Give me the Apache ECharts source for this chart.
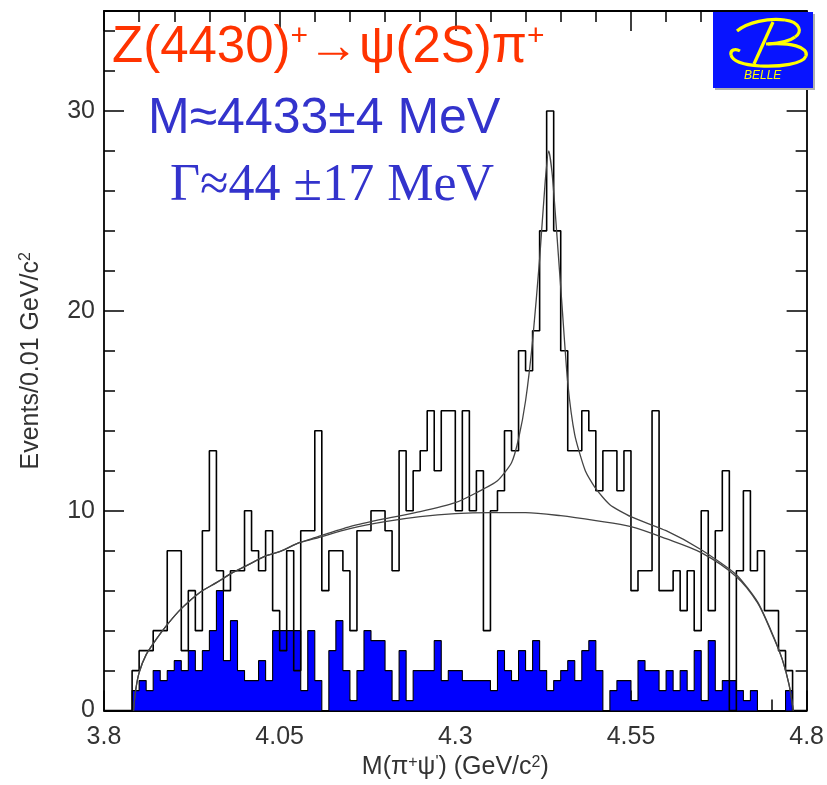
<!DOCTYPE html>
<html>
<head>
<meta charset="utf-8">
<script src="https://cdn.jsdelivr.net/npm/echarts@6/dist/echarts.min.js"></script>
<style>html,body{margin:0;padding:0;background:#fff;}#c{width:827px;height:785px;}</style>
</head>
<body>
<div id="c"></div>
<script>
// ---- data ----
const binStart = 3.80;
const binWidth = 0.01;
// signal region counts per 0.01 GeV bin (3.80 ... 4.79)
const signalCounts = [
  0,0,0,0,2,3,3,4,4,8,
  8,3,6,4,9,13,7,6,7,7,
  10,8,7,9,5,3,8,2,9,9,
  14,6,8,8,7,4,9,9,10,10,
  9,7,13,10,12,13,15,12,15,15,
  10,15,10,12,4,10,11,14,13,18,
  17,19,24,30,24,18,13,13,15,14,
  11,13,13,11,13,6,7,7,15,6,
  6,7,5,7,4,10,5,9,12,0,
  7,11,7,8,5,5,3,2,0,0
];
// scaled sideband counts (blue)
const sidebandCounts = [
  0,0,0,0,1,1.5,1,2,1.5,2,
  2.5,2,3,2,3,4,6,2.5,4.5,2,
  1.5,1.5,2.5,1.5,4,4,4,4,1,4,
  1.5,0,3,4.5,2,0.5,2,4,3.5,3.5,
  2,0.5,3,0.5,2,2,2,3.5,1.5,2,
  2,1.5,1.5,1.5,1.5,1,3,2,1.5,3,
  2,3.5,2,1,1.5,2,2.5,1.5,3,3.5,
  2,0,1,1.5,1.5,0.5,2.5,2,2,1,
  2,1,2,1,3,0.5,3.5,1,1.5,1.5,
  1,0.5,1,0,0,0,0,1,0,0
];
// fit curves: [mass, events]
const bkgX = [3.842,3.845,3.85,3.86,3.875,3.89,3.91,3.936,3.96,3.983,4.0,4.031,4.05,4.078,4.1,4.15,4.2,4.25,4.3,4.35,4.4,4.45,4.5,4.55,4.6,4.65,4.7,4.73,4.75,4.765,4.775,4.781];
const bkgY = [0,1.0,1.9,2.8,3.6,4.3,5.1,5.9,6.4,6.9,7.2,7.75,7.95,8.4,8.6,9.1,9.45,9.7,9.85,9.9,9.9,9.75,9.5,9.2,8.6,7.9,6.7,5.4,3.9,2.6,1.3,0];
const totX = [3.842,3.845,3.85,3.86,3.875,3.89,3.91,3.936,3.96,3.983,4.0,4.031,4.05,4.078,4.1,4.15,4.2,4.25,4.3,4.33,4.36,4.38,4.39,4.40,4.41,4.42,4.428,4.433,4.438,4.445,4.452,4.46,4.47,4.485,4.5,4.52,4.55,4.6,4.65,4.7,4.73,4.75,4.765,4.775,4.781];
const totY = [0,1.0,1.9,2.8,3.6,4.3,5.1,5.9,6.4,6.9,7.2,7.75,7.95,8.4,8.65,9.2,9.6,9.95,10.4,10.9,11.5,12.4,13.6,15.5,18.5,22.6,26.5,28.0,26.8,23.6,20.2,16.4,13.8,12.0,11.1,10.3,9.7,9.0,8.05,6.8,5.45,3.95,2.6,1.3,0];
const xTicks = [3.8, 4.05, 4.3, 4.55, 4.8];
const yMajor = [0, 10, 20, 30];

// ---- build series data ----
function stepData(counts){
  const d = [];
  for (let i = 0; i < counts.length; i++) d.push([+(binStart + i*binWidth).toFixed(3), counts[i]]);
  d.push([+(binStart + counts.length*binWidth).toFixed(3), counts[counts.length-1]]);
  return d;
}
const pair = (xs, ys) => xs.map((x,i)=>[x, ys[i]]);

const chart = echarts.init(document.getElementById('c'), null, {renderer:'canvas'});
const FONT = 'Liberation Sans';
const tickStyle = {color:'#000', width:1.5};
const xAxisBase = {
  type:'value', min:3.8, max:4.8, interval:0.25,
  axisLine:{show:true, onZero:false, lineStyle:{color:'#000', width:1.8}},
  axisTick:{show:true, inside:true, length:20, lineStyle:tickStyle},
  minorTick:{show:true, splitNumber:5, length:11, lineStyle:tickStyle},
  splitLine:{show:false}, minorSplitLine:{show:false}
};
const yMinorBase = {
  type:'value', min:0, max:35, interval:2,
  axisLine:{show:true, onZero:false, lineStyle:{color:'#000', width:1.8}},
  axisTick:{show:true, inside:true, length:11, lineStyle:tickStyle},
  splitLine:{show:false}
};
const yMajorBase = {
  type:'value', min:0, max:35, interval:10,
  axisLine:{show:false},
  axisTick:{show:true, inside:true, length:20, lineStyle:tickStyle},
  axisLabel:{show:false},
  splitLine:{show:false}
};
const Y = '#ffff00';
function bz(x1,y1,c1x,c1y,c2x,c2y,x2,y2){
  return {type:'bezierCurve', z:11, shape:{x1:x1,y1:y1,cpx1:c1x,cpy1:c1y,cpx2:c2x,cpy2:c2y,x2:x2,y2:y2},
    style:{stroke:Y, lineWidth:3.2, fill:null}};
}

const option = {
  animation:false,
  backgroundColor:'#fff',
  grid:{left:104, top:11, width:705, height:701, containLabel:false},
  xAxis:[
    Object.assign({}, xAxisBase, {
      position:'bottom',
      axisLabel:{show:true, fontFamily:FONT, fontSize:25, color:'#333', margin:14,
        formatter:v => { const m = xTicks.find(t=>Math.abs(t-v)<1e-6); return m===undefined?'':String(m); }},
      name:'M(π{s|+}ψ{s|\'}) (GeV/c{s|2})', nameLocation:'middle', nameGap:35,
      nameTextStyle:{fontFamily:FONT, fontSize:25, color:'#333',
        rich:{s:{fontFamily:FONT, fontSize:16, color:'#333', verticalAlign:'top', padding:[0,0,10,0]}}}
    }),
    Object.assign({}, xAxisBase, {position:'top', axisLabel:{show:false}})
  ],
  yAxis:[
    Object.assign({}, yMinorBase, {
      position:'left',
      axisLabel:{show:true, fontFamily:FONT, fontSize:25, color:'#333', margin:9,
        formatter:v => { const r = Math.round(v); return yMajor.includes(r) && Math.abs(r-v)<1e-6 ? String(r) : ''; }},
      name:'Events/0.01 GeV/c{s|2}', nameLocation:'middle', nameGap:60,
      nameTextStyle:{fontFamily:FONT, fontSize:25, color:'#333',
        rich:{s:{fontFamily:FONT, fontSize:16, color:'#333', verticalAlign:'top', padding:[0,0,10,0]}}}
    }),
    Object.assign({}, yMajorBase, {position:'left'}),
    Object.assign({}, yMinorBase, {position:'right', axisLabel:{show:false}}),
    Object.assign({}, yMajorBase, {position:'right'})
  ],
  series:[
    {type:'line', name:'sideband', step:'end', data:stepData(sidebandCounts), symbol:'none',
      xAxisIndex:0, yAxisIndex:0,
      lineStyle:{color:'#000', width:1.1}, areaStyle:{color:'#0000ff', opacity:1}, z:2},
    {type:'line', name:'signal', step:'end', data:stepData(signalCounts), symbol:'none',
      xAxisIndex:0, yAxisIndex:0,
      lineStyle:{color:'#000', width:1.6}, z:3},
    {type:'line', name:'bkg', data:pair(bkgX,bkgY), symbol:'none', smooth:0.3,
      xAxisIndex:0, yAxisIndex:0,
      lineStyle:{color:'#444', width:1.3}, z:4},
    {type:'line', name:'total', data:pair(totX,totY), symbol:'none', smooth:0.2,
      xAxisIndex:0, yAxisIndex:0,
      lineStyle:{color:'#444', width:1.3}, z:4}
  ],
  graphic:[
    {type:'text', left:112, top:22, z:10, style:{
      text:'{m|Z(4430)}{s|+}{m|→ψ(2S)π}{s|+}',
      rich:{m:{fontFamily:FONT, fontSize:51, fill:'#ff3300'}, s:{fontFamily:FONT, fontSize:30, fill:'#ff3300', verticalAlign:'top', padding:[0,0,22,0]}}
    }},
    {type:'text', left:148, top:94, z:10, style:{
      text:'M≈4433±4 MeV', font:'50px "Liberation Sans"', fill:'#3333cc'
    }},
    {type:'text', left:170, top:160, z:10, style:{
      text:'Γ≈44 ±17 MeV', font:'52px "Liberation Serif"', fill:'#3333cc'
    }},
    {type:'rect', shape:{x:715, y:14, width:100, height:76}, style:{fill:'#b0b0b0'}, z:9},
    {type:'rect', shape:{x:713, y:12, width:100, height:76}, style:{fill:'#0814ff'}, z:10},
    bz(737,31, 748,22, 768,18, 785,20),
    bz(785,20, 800,22, 803,32, 795,37),
    bz(795,37, 790,41, 782,43, 768,44),
    bz(766,44, 790,42, 809,47, 806,56),
    bz(806,56, 803,64, 780,67, 760,66),
    bz(760,66, 745,65, 733,62, 731,55),
    bz(731,55, 730,50, 735,48, 740,51),
    {type:'line', z:11, shape:{x1:773,y1:22,x2:754,y2:64}, style:{stroke:Y, lineWidth:3.2}},
    {type:'text', left:744, top:70, z:11, style:{
      text:'BELLE', font:'italic 12px "Liberation Sans"', fill:'#ffff00'
    }}
  ]
};
chart.setOption(option);
</script>
</body>
</html>
